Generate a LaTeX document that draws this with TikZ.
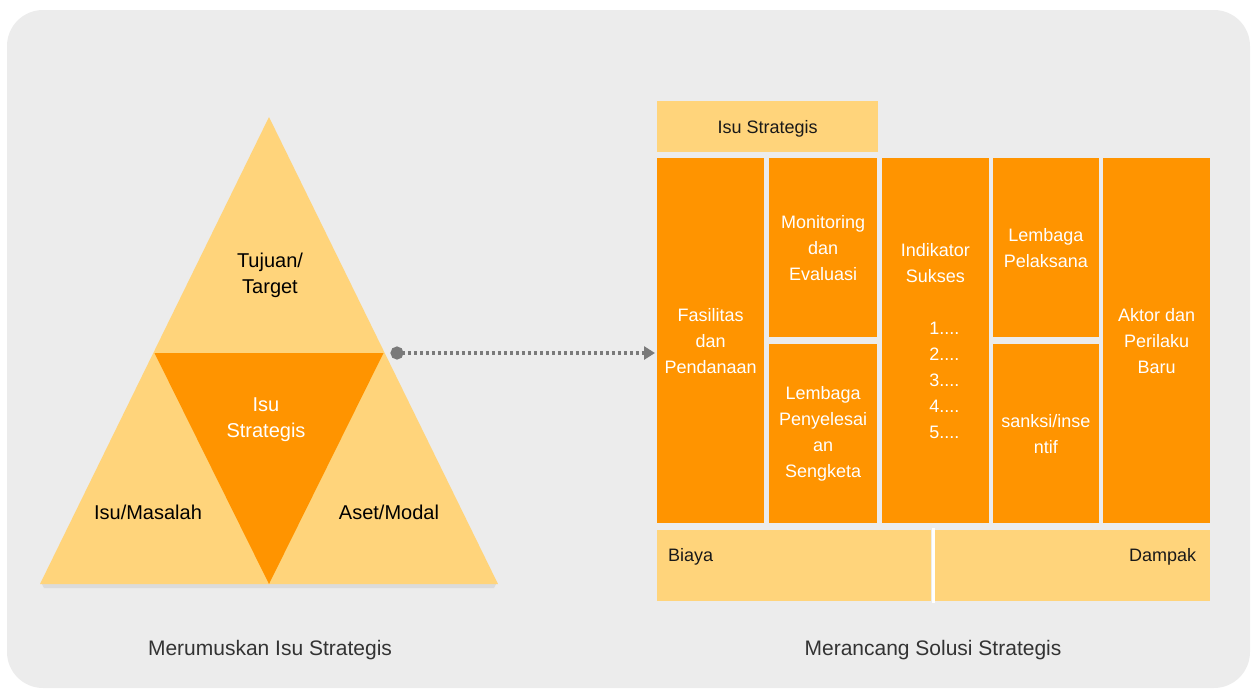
\documentclass[tikz,border=0pt]{standalone}
\usepackage{fontspec}
\setmainfont{Liberation Sans}
\usetikzlibrary{arrows.meta,calc}
\definecolor{bgc}{HTML}{ECECEC}
\definecolor{lo}{HTML}{FFD47B}
\definecolor{dor}{HTML}{FF9400}
\definecolor{arr}{HTML}{7A7A7A}
\definecolor{cap}{HTML}{333333}
\tikzset{
 colbox/.style={fill=dor, text=white, inner sep=0pt, align=center, font=\fontsize{18}{26}\selectfont, anchor=north west},
 lightbox/.style={fill=lo, inner sep=0pt, anchor=north west, font=\fontsize{18}{22}\selectfont},
 lighttext/.style={inner sep=0pt, font=\fontsize{18}{22}\selectfont, text=black!90},
 trilabel/.style={align=center, inner sep=0pt, font=\fontsize{20}{26}\selectfont},
 captext/.style={inner sep=0pt, font=\fontsize{21}{25}\selectfont, text=cap},
 dotarrow/.style={arr, line width=3.2pt, dash pattern=on 3pt off 3pt, {Circle[length=13pt]}-{Triangle[length=11pt,width=13pt]}},
}
\begin{document}
\begin{tikzpicture}[x=1pt,y=-1pt]
\useasboundingbox (0,0) rectangle (1254,689);
% background
\fill[bgc, rounded corners=36pt] (7,10) rectangle (1250,688);
% triangle
\fill[black!14] (42,584) -- (496,584) -- (494,588) -- (44,588) -- cycle;
\fill[lo] (269,117) -- (498,584) -- (40,584) -- cycle;
\fill[dor] (154.5,353) -- (383.5,353) -- (269,584) -- cycle;
\node[trilabel] (tujuan) at (270,275) {Tujuan/\\Target};
\node[trilabel, text=white] (isuc) at (266,420) {Isu\\Strategis};
\node[trilabel] (masalah) at (148,512) {Isu/Masalah};
\node[trilabel] (aset) at (389,512) {Aset/Modal};
% right panel
\node[lightbox, minimum width=221pt, minimum height=51pt] (isu) at (657,101) {};
\node[lighttext] (isut) at ($(isu.center)+(0,2)$) {Isu Strategis};
\node[colbox, minimum width=107pt, minimum height=365pt] (c1) at (657,158) {Fasilitas\\dan\\Pendanaan};
\node[colbox, minimum width=108pt, minimum height=179pt] (c2a) at (769,158) {Monitoring\\dan\\Evaluasi};
\node[colbox, minimum width=108pt, minimum height=179pt] (c2b) at (769,344) {Lembaga\\Penyelesai\\an\\Sengketa};
\node[colbox, minimum width=107.5pt, minimum height=365pt] (c3) at (881.5,158) {Indikator\\Sukses\\[26pt]\hspace*{18pt}1....\\\hspace*{18pt}2....\\\hspace*{18pt}3....\\\hspace*{18pt}4....\\\hspace*{18pt}5....};
\node[colbox, minimum width=106.5pt, minimum height=179pt] (c4a) at (992.5,158) {Lembaga\\Pelaksana};
\node[colbox, minimum width=106.5pt, minimum height=179pt] (c4b) at (992.5,344) {sanksi/inse\\ntif};
\node[colbox, minimum width=107pt, minimum height=365pt] (c5) at (1103,158) {Aktor dan\\Perilaku\\Baru};
\node[lightbox, minimum width=274pt, minimum height=71pt] (biaya) at (657,530) {};
\node[lightbox, minimum width=275pt, minimum height=71pt] (dampak) at (935,530) {};
\fill[white] (931.5,528) rectangle (934.5,603);
\node[lighttext, anchor=west] (biayat) at ($(biaya.north west)+(11,27)$) {Biaya};
\node[lighttext, anchor=east] (dampakt) at ($(dampak.north east)+(-14,27)$) {Dampak};
% arrow
\coordinate (ds) at (390.5,353);
\coordinate (de) at (c1.west |- ds);
\draw[dotarrow] (ds) -- ($(de)+(-2,0)$);
% captions
\node[captext] (cap1) at (270,650) {Merumuskan Isu Strategis};
\node[captext] (cap2) at (933,650) {Merancang Solusi Strategis};
\end{tikzpicture}
\end{document}
